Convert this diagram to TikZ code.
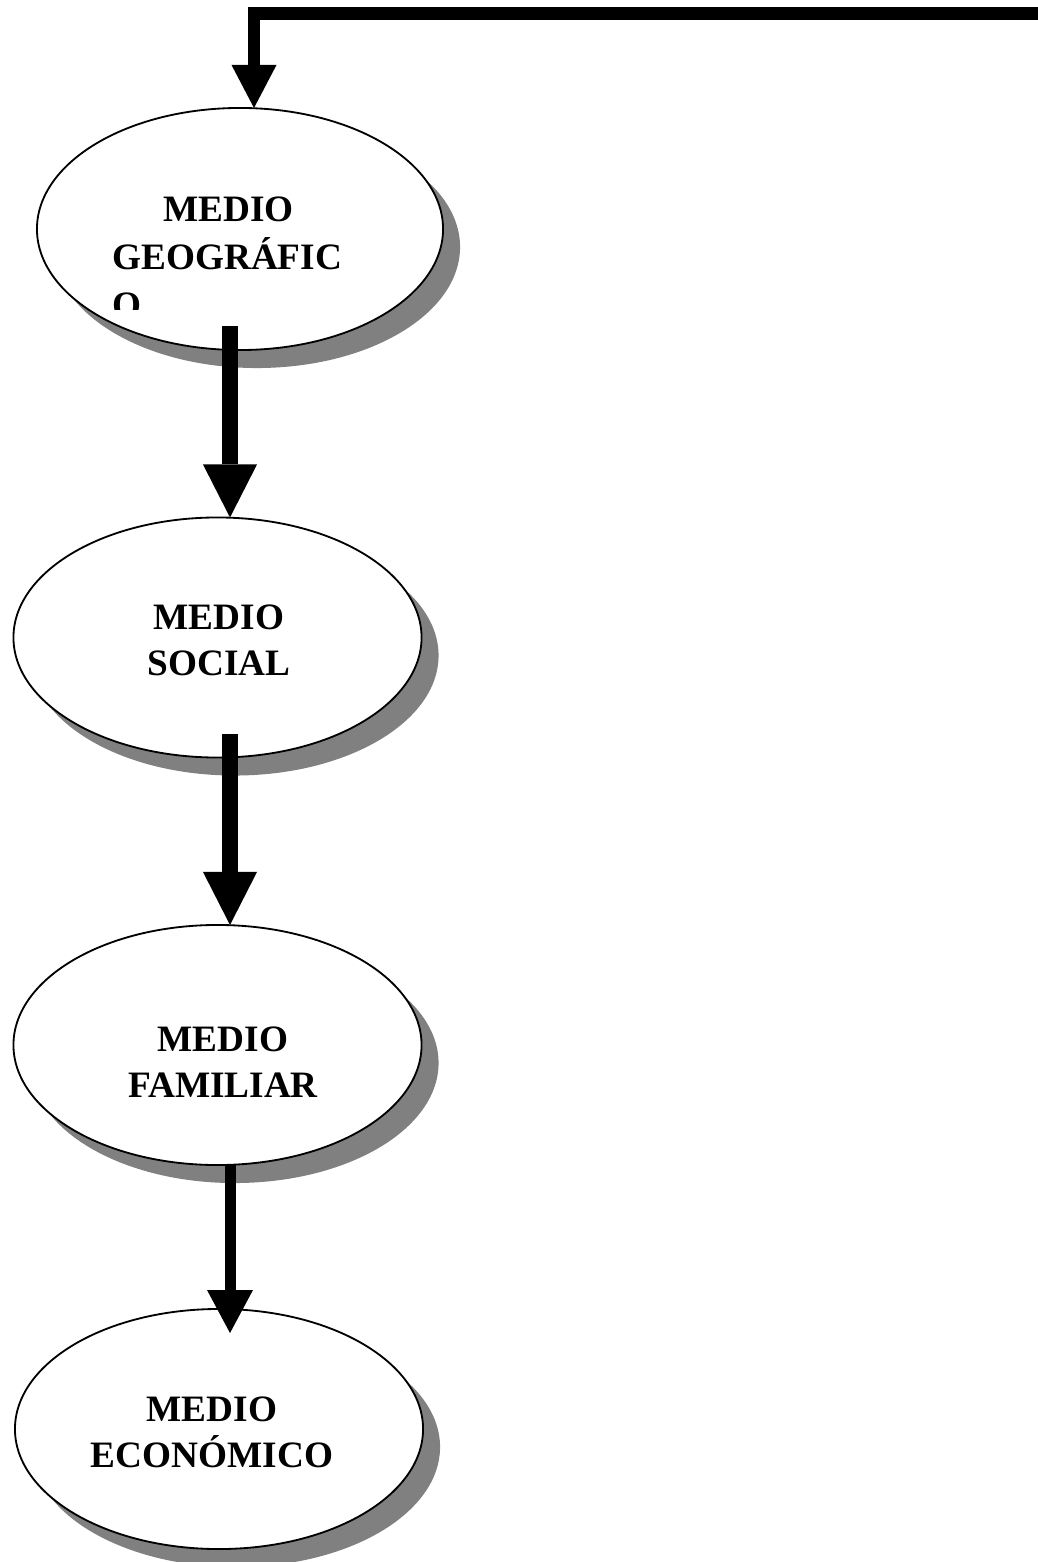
\documentclass[tikz,border=0pt]{standalone}
\usepackage{fontspec}
\setmainfont{Liberation Serif}
\usetikzlibrary{shapes.geometric,shadows,arrows.meta}
\tikzset{
	medio/.style={ellipse,draw,line width=1.3pt,fill=white,outer sep=0pt,inner sep=0pt,
		minimum width=10.2cm,minimum height=6cm,
		drop shadow={shadow xshift=0.425cm,shadow yshift=-0.45cm,fill=gray,opacity=1}},
	rotulo/.style={inner sep=0pt,align=center,font=\bfseries\fontsize{26.5}{32.7}\selectfont},
	flecha/.style={line width=0.42cm,-{Triangle[length=1.325cm,width=1.35cm,line width=0pt]}},
}
\begin{document}
\begin{tikzpicture}[x=0.025cm,y=-0.025cm]
	\useasboundingbox (0,0) rectangle (1037,1562);
	\node[medio,minimum width=10.15cm,minimum height=6.05cm] (geo) at (240,229) {};
	\node[medio] (social) at (217.5,637.5) {};
	\node[medio] (familiar) at (217.5,1045) {};
	\node[medio] (economico) at (219,1429) {};
	
	\begin{scope}
		\clip (100,180) rectangle (400,310);
		\node[rotulo,align=left,anchor=north west,font=\bfseries\fontsize{26.5}{34.1}\selectfont] (t-geo) at (112,197) {\hspace*{1.275cm}MEDIO\\GEOGRÁFIC\\O};
	\end{scope}
	\node[rotulo] (t-social) at (219,640.5) {MEDIO\\SOCIAL};
	\node[rotulo] (t-familiar) at (223,1062.5) {MEDIO\\FAMILIAR};
	\node[rotulo] (t-economico) at (212,1432.5) {MEDIO\\ECONÓMICO};
	
	\coordinate (origen) at (1040,13.5);
	\coordinate (codo) at (254,13.5);
	\coordinate (a1) at (230,326);
	\coordinate (a2) at (230,734);
	\coordinate (a3) at (230,1165);
	\coordinate (b3) at (230,1333);
	
	\draw[line width=0.31cm,-{Triangle[length=1.075cm,width=1.125cm,line width=0pt]}] (origen) -- (codo) -- (codo |- geo.north);
	\draw[flecha] (a1) -- (a1 |- social.north);
	\draw[flecha] (a2) -- (a2 |- familiar.north);
	\draw[line width=0.275cm,-{Triangle[length=1.075cm,width=1.15cm,line width=0pt]}] (a3 |- familiar.south) -- (b3);
\end{tikzpicture}
\end{document}
